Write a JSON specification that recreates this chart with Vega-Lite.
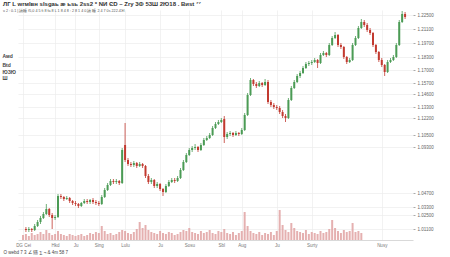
{
"$schema":"https://vega.github.io/schema/vega-lite/v6.json",
"autosize":{"type":"none"},
"width":395,"height":230,
"padding":{"left":18,"top":10,"right":37,"bottom":17},
"background":"white",
"config":{"font":"Liberation Sans","view":{"stroke":null}},
"title":{"text":"ЛГ L wrмlвн slsgаь æ ьsь 2ss2 * NИ ЄD – Zry 3Ф 53Ш 2Ю18 . Bиst ⁷⁷","subtitle":"ч 2 : 0.1 | 議睡 f5,0 4 5 fi 8 fa 8 L 1 8 4 8 : 2 8 1 4 0 議 睡 2 4 7 0s  222.4ЭI","anchor":"start","frame":"group","dx":-15,"dy":3,"offset":0,"fontSize":6,"fontWeight":"bold","color":"#333","subtitleFontSize":3.7,"subtitleColor":"#555","subtitlePadding":2},
"datasets":{
"k":[
{"t":1,"o":1.011,"h":1.013,"l":1.008,"c":1.010},
{"t":2,"o":1.010,"h":1.013,"l":1.008,"c":1.011},
{"t":3,"o":1.011,"h":1.012,"l":1.008,"c":1.010},
{"t":4,"o":1.010,"h":1.016,"l":1.009,"c":1.014},
{"t":5,"o":1.014,"h":1.020,"l":1.013,"c":1.018},
{"t":6,"o":1.018,"h":1.024,"l":1.016,"c":1.022},
{"t":7,"o":1.022,"h":1.028,"l":1.021,"c":1.026},
{"t":8,"o":1.026,"h":1.036,"l":1.025,"c":1.031},
{"t":9,"o":1.031,"h":1.032,"l":1.023,"c":1.025},
{"t":10,"o":1.025,"h":1.027,"l":1.011,"c":1.022},
{"t":11,"o":1.022,"h":1.025,"l":1.020,"c":1.023},
{"t":12,"o":1.023,"h":1.046,"l":1.022,"c":1.044},
{"t":13,"o":1.044,"h":1.046,"l":1.041,"c":1.043},
{"t":14,"o":1.043,"h":1.044,"l":1.039,"c":1.041},
{"t":15,"o":1.041,"h":1.044,"l":1.040,"c":1.042},
{"t":16,"o":1.042,"h":1.043,"l":1.037,"c":1.039},
{"t":17,"o":1.039,"h":1.040,"l":1.035,"c":1.037},
{"t":18,"o":1.037,"h":1.039,"l":1.034,"c":1.036},
{"t":19,"o":1.036,"h":1.037,"l":1.032,"c":1.034},
{"t":20,"o":1.034,"h":1.038,"l":1.033,"c":1.037},
{"t":21,"o":1.037,"h":1.041,"l":1.036,"c":1.039},
{"t":22,"o":1.039,"h":1.041,"l":1.036,"c":1.038},
{"t":23,"o":1.038,"h":1.041,"l":1.036,"c":1.040},
{"t":24,"o":1.040,"h":1.042,"l":1.036,"c":1.038},
{"t":25,"o":1.038,"h":1.040,"l":1.035,"c":1.037},
{"t":26,"o":1.037,"h":1.039,"l":1.034,"c":1.036},
{"t":27,"o":1.036,"h":1.045,"l":1.035,"c":1.043},
{"t":28,"o":1.043,"h":1.052,"l":1.042,"c":1.050},
{"t":29,"o":1.050,"h":1.057,"l":1.049,"c":1.055},
{"t":30,"o":1.055,"h":1.061,"l":1.054,"c":1.059},
{"t":31,"o":1.059,"h":1.061,"l":1.056,"c":1.058},
{"t":32,"o":1.058,"h":1.061,"l":1.056,"c":1.059},
{"t":33,"o":1.059,"h":1.060,"l":1.055,"c":1.057},
{"t":34,"o":1.057,"h":1.092,"l":1.056,"c":1.090},
{"t":35,"o":1.095,"h":1.117,"l":1.078,"c":1.080},
{"t":36,"o":1.080,"h":1.082,"l":1.074,"c":1.076},
{"t":37,"o":1.076,"h":1.078,"l":1.073,"c":1.075},
{"t":38,"o":1.075,"h":1.079,"l":1.073,"c":1.077},
{"t":39,"o":1.077,"h":1.078,"l":1.072,"c":1.074},
{"t":40,"o":1.074,"h":1.078,"l":1.073,"c":1.076},
{"t":41,"o":1.076,"h":1.077,"l":1.072,"c":1.074},
{"t":42,"o":1.074,"h":1.075,"l":1.062,"c":1.064},
{"t":43,"o":1.064,"h":1.066,"l":1.056,"c":1.058},
{"t":44,"o":1.058,"h":1.062,"l":1.056,"c":1.060},
{"t":45,"o":1.060,"h":1.061,"l":1.052,"c":1.054},
{"t":46,"o":1.054,"h":1.058,"l":1.052,"c":1.056},
{"t":47,"o":1.056,"h":1.057,"l":1.049,"c":1.051},
{"t":48,"o":1.051,"h":1.052,"l":1.044,"c":1.048},
{"t":49,"o":1.048,"h":1.056,"l":1.047,"c":1.054},
{"t":50,"o":1.054,"h":1.060,"l":1.053,"c":1.058},
{"t":51,"o":1.058,"h":1.062,"l":1.057,"c":1.060},
{"t":52,"o":1.060,"h":1.062,"l":1.057,"c":1.059},
{"t":53,"o":1.059,"h":1.064,"l":1.058,"c":1.062},
{"t":54,"o":1.062,"h":1.072,"l":1.061,"c":1.070},
{"t":55,"o":1.070,"h":1.080,"l":1.069,"c":1.078},
{"t":56,"o":1.078,"h":1.087,"l":1.077,"c":1.085},
{"t":57,"o":1.085,"h":1.092,"l":1.084,"c":1.090},
{"t":58,"o":1.090,"h":1.094,"l":1.088,"c":1.092},
{"t":59,"o":1.092,"h":1.096,"l":1.090,"c":1.093},
{"t":60,"o":1.093,"h":1.094,"l":1.088,"c":1.090},
{"t":61,"o":1.090,"h":1.097,"l":1.089,"c":1.095},
{"t":62,"o":1.095,"h":1.102,"l":1.094,"c":1.100},
{"t":63,"o":1.100,"h":1.104,"l":1.099,"c":1.102},
{"t":64,"o":1.102,"h":1.107,"l":1.101,"c":1.105},
{"t":65,"o":1.105,"h":1.114,"l":1.104,"c":1.112},
{"t":66,"o":1.112,"h":1.118,"l":1.111,"c":1.116},
{"t":67,"o":1.116,"h":1.120,"l":1.115,"c":1.118},
{"t":68,"o":1.118,"h":1.122,"l":1.117,"c":1.120},
{"t":69,"o":1.121,"h":1.124,"l":1.097,"c":1.103},
{"t":70,"o":1.103,"h":1.108,"l":1.101,"c":1.106},
{"t":71,"o":1.106,"h":1.109,"l":1.104,"c":1.107},
{"t":72,"o":1.107,"h":1.108,"l":1.103,"c":1.105},
{"t":73,"o":1.105,"h":1.109,"l":1.104,"c":1.107},
{"t":74,"o":1.107,"h":1.108,"l":1.104,"c":1.106},
{"t":75,"o":1.106,"h":1.112,"l":1.105,"c":1.110},
{"t":76,"o":1.110,"h":1.127,"l":1.109,"c":1.125},
{"t":77,"o":1.125,"h":1.147,"l":1.124,"c":1.145},
{"t":78,"o":1.145,"h":1.162,"l":1.144,"c":1.160},
{"t":79,"o":1.160,"h":1.161,"l":1.154,"c":1.156},
{"t":80,"o":1.156,"h":1.158,"l":1.152,"c":1.154},
{"t":81,"o":1.154,"h":1.159,"l":1.153,"c":1.157},
{"t":82,"o":1.157,"h":1.158,"l":1.153,"c":1.155},
{"t":83,"o":1.155,"h":1.161,"l":1.154,"c":1.158},
{"t":84,"o":1.158,"h":1.160,"l":1.136,"c":1.138},
{"t":85,"o":1.138,"h":1.140,"l":1.133,"c":1.135},
{"t":86,"o":1.135,"h":1.137,"l":1.131,"c":1.133},
{"t":87,"o":1.133,"h":1.135,"l":1.130,"c":1.132},
{"t":88,"o":1.132,"h":1.134,"l":1.126,"c":1.128},
{"t":89,"o":1.128,"h":1.130,"l":1.122,"c":1.124},
{"t":90,"o":1.124,"h":1.126,"l":1.118,"c":1.122},
{"t":91,"o":1.122,"h":1.142,"l":1.121,"c":1.140},
{"t":92,"o":1.140,"h":1.154,"l":1.139,"c":1.152},
{"t":93,"o":1.152,"h":1.160,"l":1.151,"c":1.158},
{"t":94,"o":1.158,"h":1.166,"l":1.157,"c":1.164},
{"t":95,"o":1.164,"h":1.169,"l":1.162,"c":1.167},
{"t":96,"o":1.167,"h":1.174,"l":1.166,"c":1.172},
{"t":97,"o":1.172,"h":1.178,"l":1.171,"c":1.176},
{"t":98,"o":1.176,"h":1.179,"l":1.174,"c":1.177},
{"t":99,"o":1.177,"h":1.180,"l":1.175,"c":1.178},
{"t":100,"o":1.178,"h":1.182,"l":1.177,"c":1.180},
{"t":101,"o":1.180,"h":1.181,"l":1.172,"c":1.177},
{"t":102,"o":1.177,"h":1.187,"l":1.176,"c":1.185},
{"t":103,"o":1.185,"h":1.189,"l":1.184,"c":1.187},
{"t":104,"o":1.187,"h":1.188,"l":1.183,"c":1.185},
{"t":105,"o":1.185,"h":1.197,"l":1.184,"c":1.195},
{"t":106,"o":1.195,"h":1.204,"l":1.194,"c":1.202},
{"t":107,"o":1.202,"h":1.208,"l":1.201,"c":1.205},
{"t":108,"o":1.205,"h":1.206,"l":1.193,"c":1.195},
{"t":109,"o":1.195,"h":1.197,"l":1.191,"c":1.193},
{"t":110,"o":1.193,"h":1.194,"l":1.181,"c":1.183},
{"t":111,"o":1.183,"h":1.184,"l":1.176,"c":1.178},
{"t":112,"o":1.178,"h":1.182,"l":1.177,"c":1.180},
{"t":113,"o":1.180,"h":1.197,"l":1.179,"c":1.195},
{"t":114,"o":1.195,"h":1.204,"l":1.194,"c":1.202},
{"t":115,"o":1.202,"h":1.214,"l":1.201,"c":1.212},
{"t":116,"o":1.212,"h":1.221,"l":1.211,"c":1.218},
{"t":117,"o":1.218,"h":1.220,"l":1.213,"c":1.215},
{"t":118,"o":1.215,"h":1.217,"l":1.208,"c":1.210},
{"t":119,"o":1.210,"h":1.212,"l":1.205,"c":1.207},
{"t":120,"o":1.207,"h":1.208,"l":1.193,"c":1.195},
{"t":121,"o":1.195,"h":1.196,"l":1.186,"c":1.188},
{"t":122,"o":1.188,"h":1.189,"l":1.178,"c":1.180},
{"t":123,"o":1.180,"h":1.182,"l":1.173,"c":1.175},
{"t":124,"o":1.175,"h":1.176,"l":1.164,"c":1.168},
{"t":125,"o":1.168,"h":1.180,"l":1.167,"c":1.178},
{"t":126,"o":1.178,"h":1.182,"l":1.177,"c":1.180},
{"t":127,"o":1.180,"h":1.185,"l":1.179,"c":1.183},
{"t":128,"o":1.183,"h":1.197,"l":1.182,"c":1.195},
{"t":129,"o":1.195,"h":1.220,"l":1.194,"c":1.218},
{"t":130,"o":1.218,"h":1.229,"l":1.217,"c":1.226},
{"t":131,"o":1.226,"h":1.228,"l":1.221,"c":1.223}
],
"vol":[
{"t":0,"v":5},{"t":1,"v":6},{"t":2,"v":4},{"t":3,"v":7},{"t":4,"v":5},{"t":5,"v":6},{"t":6,"v":8},{"t":7,"v":6},{"t":8,"v":10},{"t":9,"v":7},
{"t":10,"v":5},{"t":11,"v":6},{"t":12,"v":9},{"t":13,"v":6},{"t":14,"v":5},{"t":15,"v":4},{"t":16,"v":6},{"t":17,"v":5},{"t":18,"v":4},{"t":19,"v":5},
{"t":20,"v":6},{"t":21,"v":4},{"t":22,"v":5},{"t":23,"v":7},{"t":24,"v":6},{"t":25,"v":8},{"t":26,"v":7},{"t":27,"v":14},{"t":28,"v":9},{"t":29,"v":6},
{"t":30,"v":7},{"t":31,"v":5},{"t":32,"v":6},{"t":33,"v":8},{"t":34,"v":10},{"t":35,"v":9},{"t":36,"v":7},{"t":37,"v":6},{"t":38,"v":8},{"t":39,"v":11},
{"t":40,"v":18},{"t":41,"v":12},{"t":42,"v":15},{"t":43,"v":10},{"t":44,"v":8},{"t":45,"v":7},{"t":46,"v":6},{"t":47,"v":9},{"t":48,"v":7},{"t":49,"v":6},
{"t":50,"v":8},{"t":51,"v":7},{"t":52,"v":5},{"t":53,"v":6},{"t":54,"v":8},{"t":55,"v":10},{"t":56,"v":9},{"t":57,"v":12},{"t":58,"v":8},{"t":59,"v":7},
{"t":60,"v":6},{"t":61,"v":9},{"t":62,"v":7},{"t":63,"v":8},{"t":64,"v":10},{"t":65,"v":7},{"t":66,"v":6},{"t":67,"v":9},{"t":68,"v":8},{"t":69,"v":11},
{"t":70,"v":7},{"t":71,"v":6},{"t":72,"v":8},{"t":73,"v":5},{"t":74,"v":7},{"t":75,"v":9},{"t":76,"v":28},{"t":77,"v":14},{"t":78,"v":9},{"t":79,"v":7},
{"t":80,"v":6},{"t":81,"v":8},{"t":82,"v":5},{"t":83,"v":7},{"t":84,"v":6},{"t":85,"v":8},{"t":86,"v":5},{"t":87,"v":9},{"t":88,"v":30},{"t":89,"v":15},
{"t":90,"v":10},{"t":91,"v":8},{"t":92,"v":17},{"t":93,"v":12},{"t":94,"v":9},{"t":95,"v":8},{"t":96,"v":7},{"t":97,"v":10},{"t":98,"v":6},{"t":99,"v":8},
{"t":100,"v":7},{"t":101,"v":6},{"t":102,"v":9},{"t":103,"v":7},{"t":104,"v":8},{"t":105,"v":11},{"t":106,"v":20},{"t":107,"v":12},{"t":108,"v":9},{"t":109,"v":7},
{"t":110,"v":10},{"t":111,"v":8},{"t":112,"v":9},{"t":113,"v":17},{"t":114,"v":8},{"t":115,"v":9},{"t":116,"v":7}
]
},
"encoding":{
"x":{"field":"t","type":"quantitative","scale":{"domain":[0,132],"nice":false,"zero":false},
"axis":{"values":[0,11,18,26,35,47,57,68,75,87,99,123],"tickCount":40,
"labelExpr":"['DG Cei','Hkd','Ju','Sing','Lulu','Ju','Sosu','Sbl','Aug','Ju','Surty','Nusy'][indexof([0,11,18,26,35,47,57,68,75,87,99,123], datum.value)]",
"labelFontSize":4.5,"labelColor":"#777","labelFlush":false,"labelOverlap":false,"labelPadding":2,
"grid":true,"gridColor":"#ececec","gridWidth":0.7,"ticks":false,"domain":true,"domainColor":"#cfcfcf","domainWidth":0.8,
"title":"O webd 7 3 ∠ 猫 ∑ ¬ & 4m 58 7","titleFontSize":4.5,"titleFontWeight":"normal","titleColor":"#444","titleAnchor":"start","titleAlign":"left","titleBaseline":"middle","titleX":-15,"titleY":12}}
},
"layer":[
{"data":{"name":"vol"},
"mark":{"type":"bar","width":2,"color":"#e0a2a2","opacity":0.85},
"encoding":{"y":{"field":"v","type":"quantitative","scale":{"domain":[0,230],"nice":false},
"axis":{"orient":"left","values":[185,176,169,163],"tickCount":40,"labelExpr":"['Aмd','Btd','ЮЗЮ','Ш'][indexof([185,176,169,163], datum.value)]","labelAlign":"left","labelPadding":16,"labelFontSize":5,"labelFontWeight":"bold","labelColor":"#444","labelOverlap":false,"ticks":false,"domain":false,"grid":false,"title":null}}}},
{"data":{"name":"k"},
"encoding":{"color":{"condition":{"test":"datum.c >= datum.o","value":"#4b9b55"},"value":"#c23a30"}},
"layer":[
{"mark":{"type":"rule","strokeWidth":0.8},
"encoding":{"y":{"field":"l","type":"quantitative","scale":{"domain":[1.0,1.23],"nice":false,"zero":false},
"axis":{"orient":"right","values":[1.225,1.211,1.197,1.183,1.170,1.157,1.146,1.133,1.122,1.105,1.093,1.047,1.033,1.025,1.011],"tickCount":40,"format":".5f","labelFontSize":4.5,"labelColor":"#666","labelOverlap":false,"labelBound":false,"tickSize":2,"tickColor":"#aaa","labelPadding":2,"domain":false,"grid":true,"gridColor":"#ececec","gridWidth":0.7,"title":null}},
"y2":{"field":"h"}}},
{"mark":{"type":"bar","width":2},
"encoding":{"y":{"field":"o","type":"quantitative"},"y2":{"field":"c"}}}
]}
],
"resolve":{"scale":{"y":"independent"}}
}
